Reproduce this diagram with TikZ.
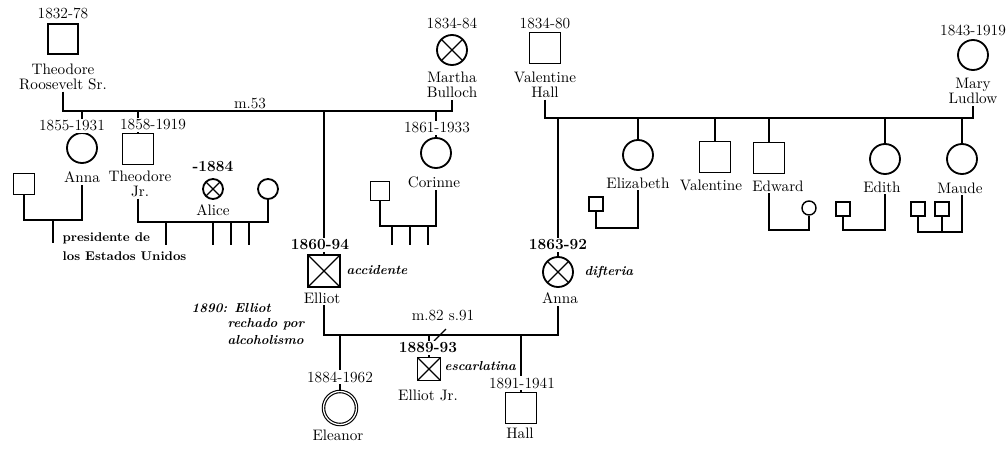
\documentclass[tikz,border=0pt]{standalone}
\usepackage{tikz}
\usetikzlibrary{positioning}

\begin{document}
\begin{tikzpicture}[x=0.25mm, y=-0.25mm, line width=0.9pt,
    male/.style={draw, line width=1.3pt, minimum size=#1*0.25mm, inner sep=0pt},
    female/.style={circle, draw, line width=1.3pt, minimum size=#1*0.25mm, inner sep=0pt},
    crossed/.style={path picture={
        \draw[line width=0.8pt] (path picture bounding box.south west) -- (path picture bounding box.north east)
            (path picture bounding box.north west) -- (path picture bounding box.south east);}},
    yearlbl/.style={font=\fontsize{11}{11}\selectfont, fill=white, inner sep=1pt},
    yearbold/.style={yearlbl, font=\fontsize{11}{11}\selectfont\bfseries},
    namelbl/.style={font=\fontsize{10.8}{10.3}\selectfont, align=center, inner sep=1pt},
    notelbl/.style={font=\fontsize{9.3}{9}\selectfont\bfseries\itshape, inner sep=0pt, anchor=west}]
    \path[use as bounding box, fill=white] (0,0) rectangle (1008,451);

    \node[male=30] (trsr) at (63,39) {};
    \node[namelbl] (trsrname) at (63,77) {Theodore\\Roosevelt Sr.};
    \node[female=30, crossed] (martha) at (452,50) {};
    \node[namelbl] (marthaname) at (452,85) {Martha\\Bulloch};
    \node[male=31] (valhall) at (545,48) {};
    \node[namelbl] (valhallname) at (545,85) {Valentine\\Hall};
    \node[female=30] (mary) at (973,55) {};
    \node[namelbl] (maryname) at (973,91) {Mary\\Ludlow};
    \coordinate (m53) at (250,111);
    \coordinate (m2) at (760,118);

    \node[female=30] (anna) at (82,148) {};
    \node[namelbl] (annaname) at (82,177) {Anna};
    \node[male=31] (tjr) at (138,149) {};
    \node[namelbl] (tjrname) at (140,184) {Theodore\\Jr.};
    \node[male=32, crossed] (elliot) at (324,271) {};
    \node[namelbl] (elliotname) at (322,298) {Elliot};
    \node[female=30] (corinne) at (436,153) {};
    \node[namelbl] (corinnename) at (434,182) {Corinne};

    \node[male=21] (annahusb) at (24,184) {};
    \coordinate (annam) at (53,220);
    \coordinate (annakid) at (53,243);
    \node[female=20, crossed] (alice) at (213,189) {};
    \node[namelbl] (alicename) at (213,210) {Alice};
    \node[female=20] (tjrwife) at (268,189) {};
    \coordinate (tjrm) at (200,222);
    \foreach \k/\x in {a/166,b/213,c/231,d/249} {
        \coordinate (tjrkid\k) at (\x,245);
    }
    \node[male=19] (corhusb) at (380,191) {};
    \coordinate (corm) at (408,226);
    \foreach \k/\x in {a/392,b/410,c/428} {
        \coordinate (corkid\k) at (\x,245);
    }

    \node[female=30, crossed] (annah) at (558,272) {};
    \node[namelbl] (annahname) at (560,298) {Anna};
    \node[female=30] (eliz) at (638,155) {};
    \node[namelbl] (elizname) at (638,183) {Elizabeth};
    \node[male=31] (valjr) at (715,157) {};
    \node[namelbl] (valjrname) at (711,185) {Valentine};
    \node[male=31] (edward) at (769,158) {};
    \node[namelbl] (edwardname) at (778,186) {Edward};
    \node[female=30] (edith) at (885,159) {};
    \node[namelbl] (edithname) at (882,187) {Edith};
    \node[female=30] (maude) at (962,159) {};
    \node[namelbl] (maudename) at (960,188) {Maude};

    \node[male=14, line width=1pt] (elizhusb) at (596,204) {};
    \coordinate (elizm) at (617,228);
    \node[female=14, line width=1pt] (edwwife) at (809,208) {};
    \coordinate (edwm) at (790,230);
    \node[male=14, line width=1pt] (edithhusb) at (843,209) {};
    \coordinate (edithm) at (860,230);
    \node[male=14, line width=1pt] (maudekida) at (918,209) {};
    \node[male=14, line width=1pt] (maudekidb) at (942,209) {};
    \coordinate (maudem) at (940,232);

    \coordinate (m82) at (440,335);
    \node[female=33, line width=0.8pt, double, double distance=0.9pt] (eleanor) at (340,408) {};
    \node[namelbl] (eleanorname) at (338,435) {Eleanor};
    \node[male=23, crossed] (elliotjr) at (429,369) {};
    \node[namelbl] (elliotjrname) at (428,395) {Elliot Jr.};
    \node[male=31] (hall) at (521,408) {};
    \node[namelbl] (hallname) at (520,433) {Hall};

    \draw (trsrname.south) |- (m53) -| (marthaname.south);
    \draw (valhallname.south) |- (m2) -| (maryname.south);
    \foreach \p in {anna,tjr,elliot,corinne} {
        \draw (m53 -| \p) -- (\p.north);
    }
    \foreach \p in {annah,eliz,valjr,edward,edith,maude} {
        \draw (m2 -| \p) -- (\p.north);
    }
    \draw (annahusb.south) |- (annam) -| (annaname.south);
    \draw (annam) -- (annakid);
    \draw (tjr |- tjrname.south) |- (tjrm) -| (tjrwife.south);
    \foreach \k in {a,b,c,d} {
        \draw (tjrkid\k |- tjrm) -- (tjrkid\k);
    }
    \draw (corhusb.south) |- (corm) -| (corinne |- corinnename.south);
    \foreach \k in {a,b,c} {
        \draw (corkid\k |- corm) -- (corkid\k);
    }
    \draw (elizhusb.south) |- (elizm) -| (eliz |- elizname.south);
    \draw (edward |- edwardname.south) |- (edwm) -| (edwwife.south);
    \draw (edithhusb.south) |- (edithm) -| (edith |- edithname.south);
    \draw (maudekida.south) |- (maudem) -| (maude |- maudename.south);
    \draw (maudekidb.south) -- (maudekidb |- maudem);
    \draw (elliot |- elliotname.south) |- (m82) -| (annah |- annahname.south);
    \draw ([shift={(-6,6)}]m82) -- ([shift={(6,-6)}]m82);
    \foreach \p in {eleanor,elliotjr,hall} {
        \draw (m82 -| \p) -- (\p.north);
    }

    \node[yearlbl] (trsryear) at (63,13) {1832-78};
    \node[yearlbl] (marthayear) at (452,23) {1834-84};
    \node[yearlbl] (valhallyear) at (545,23) {1834-80};
    \node[yearlbl] (maryyear) at (973,30) {1843-1919};
    \node[yearlbl] (annayear) at (72,126) {1855-1931};
    \node[yearlbl] (tjryear) at (153,125) {1858-1919};
    \node[yearbold] (aliceyear) at (213,167) {-1884};
    \node[yearbold] (elliotyear) at (320,245) {1860-94};
    \node[yearlbl] (corinneyear) at (437,128) {1861-1933};
    \node[yearbold] (annahyear) at (558,245) {1863-92};
    \node[yearlbl] (eleanoryear) at (340,377) {1884-1962};
    \node[yearbold] (elliotjryear) at (428,348) {1889-93};
    \node[yearlbl] (hallyear) at (522,383) {1891-1941};
    \node[yearlbl, fill=none, above] (m53lbl) at (m53) {m.53};
    \node[yearlbl, fill=none] (m82lbl) at (443,316) {m.82 s.91};

    \node[notelbl] (elliotnote) at (346,270) {accidente};
    \node[notelbl] (annahnote) at (584,272) {difteria};
    \node[notelbl] (elliotjrnote) at (444,366) {escarlatina};
    \node[notelbl] (rejectnotea) at (191,308) {1890: Elliot};
    \node[notelbl] (rejectnoteb) at (227,324) {rechado por};
    \node[notelbl] (rejectnotec) at (227,340) {alcoholismo};
    \node[anchor=west, align=left, inner sep=0pt, font=\fontsize{9}{13.5}\selectfont\bfseries] (presnote) at (62,247) {presidente de\\los Estados Unidos};
\end{tikzpicture}
\end{document}
